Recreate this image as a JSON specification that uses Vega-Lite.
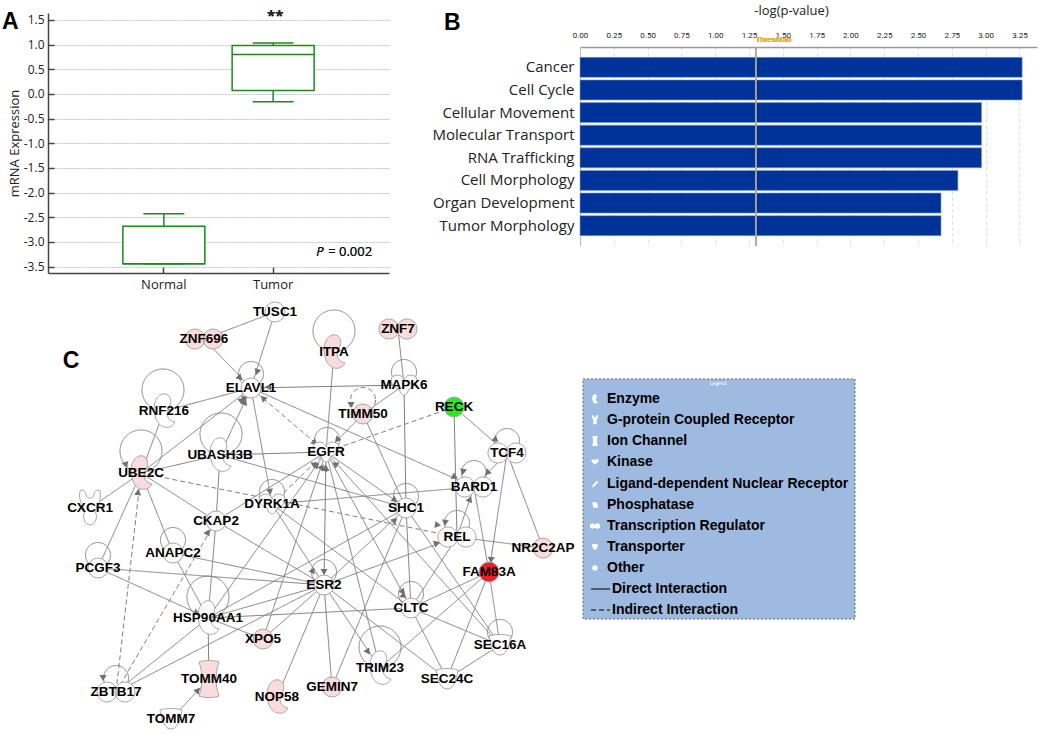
{
"$schema":"https://vega.github.io/schema/vega-lite/v6.json",
"background":"white","padding":{"left":2,"top":4,"right":0,"bottom":0},
"config":{"view":{"stroke":null}},
"datasets":{
"box":[{"group":"Normal","lower":-3.44,"q1":-3.44,"median":-3.44,"q3":-2.68,"upper":-2.43},{"group":"Tumor","lower":-0.16,"q1":0.07,"median":0.8,"q3":0.98,"upper":1.03}],
"path":[{"term":"Cancer","value":3.27},{"term":"Cell Cycle","value":3.27},{"term":"Cellular Movement","value":2.97},{"term":"Molecular Transport","value":2.97},{"term":"RNA Trafficking","value":2.97},{"term":"Cell Morphology","value":2.795},{"term":"Organ Development","value":2.67},{"term":"Tumor Morphology","value":2.67}],
"nodes":[
{"name":"TUSC1","x":275,"y":312,"kind":"other","level":"none"},
{"name":"ZNF696","x":204,"y":339,"kind":"tf","level":"up"},
{"name":"ELAVL1","x":251,"y":388,"kind":"other","level":"none"},
{"name":"RNF216","x":164,"y":411,"kind":"enzyme","level":"none"},
{"name":"UBE2C","x":141,"y":473,"kind":"enzyme","level":"up"},
{"name":"UBASH3B","x":220,"y":455,"kind":"enzyme","level":"none"},
{"name":"EGFR","x":326,"y":452,"kind":"kinase","level":"none"},
{"name":"DYRK1A","x":272,"y":504,"kind":"kinase","level":"none"},
{"name":"CXCR1","x":90,"y":508,"kind":"gpcr","level":"none"},
{"name":"CKAP2","x":216,"y":521,"kind":"other","level":"none"},
{"name":"ANAPC2","x":173,"y":553,"kind":"other","level":"none"},
{"name":"PCGF3","x":98,"y":568,"kind":"other","level":"none"},
{"name":"HSP90AA1","x":208,"y":618,"kind":"enzyme","level":"none"},
{"name":"ZBTB17","x":116,"y":692,"kind":"tf","level":"none"},
{"name":"TOMM40","x":209,"y":679,"kind":"ion","level":"up"},
{"name":"TOMM7","x":171,"y":719,"kind":"transporter","level":"none"},
{"name":"XPO5","x":263,"y":639,"kind":"other","level":"up"},
{"name":"NOP58","x":277,"y":697,"kind":"enzyme","level":"up"},
{"name":"GEMIN7","x":332,"y":687,"kind":"other","level":"up"},
{"name":"TRIM23","x":380,"y":668,"kind":"enzyme","level":"none"},
{"name":"SEC24C","x":447,"y":679,"kind":"transporter","level":"none"},
{"name":"SEC16A","x":500,"y":645,"kind":"transporter","level":"none"},
{"name":"CLTC","x":411,"y":608,"kind":"other","level":"none"},
{"name":"ESR2","x":324,"y":585,"kind":"other","level":"none"},
{"name":"FAM83A","x":489,"y":572,"kind":"other","level":"high"},
{"name":"REL","x":457,"y":537,"kind":"tf","level":"none"},
{"name":"NR2C2AP","x":543,"y":548,"kind":"other","level":"up"},
{"name":"SHC1","x":406,"y":508,"kind":"other","level":"none"},
{"name":"BARD1","x":474,"y":487,"kind":"tf","level":"none"},
{"name":"TCF4","x":507,"y":453,"kind":"tf","level":"none"},
{"name":"RECK","x":454,"y":407,"kind":"other","level":"down"},
{"name":"TIMM50","x":363,"y":414,"kind":"other","level":"up"},
{"name":"MAPK6","x":404,"y":385,"kind":"kinase","level":"none"},
{"name":"ZNF7","x":398,"y":329,"kind":"tf","level":"up"},
{"name":"ITPA","x":334,"y":352,"kind":"enzyme","level":"up"}],
"loops":[
{"x":251,"y":374,"loop":"small","line":"direct"},{"x":163,"y":390,"loop":"big","line":"direct"},{"x":141,"y":451,"loop":"big","line":"direct"},{"x":221,"y":434,"loop":"big","line":"direct"},{"x":327,"y":440,"loop":"small","line":"direct"},{"x":272,"y":492,"loop":"small","line":"direct"},{"x":173,"y":540,"loop":"small","line":"direct"},{"x":98,"y":555,"loop":"small","line":"direct"},{"x":208,"y":597,"loop":"big","line":"direct"},{"x":116,"y":678,"loop":"small","line":"direct"},{"x":380,"y":647,"loop":"big","line":"direct"},{"x":500,"y":632,"loop":"small","line":"direct"},{"x":411,"y":594,"loop":"small","line":"direct"},{"x":324,"y":572,"loop":"small","line":"direct"},{"x":457,"y":523,"loop":"small","line":"direct"},{"x":406,"y":496,"loop":"small","line":"direct"},{"x":474,"y":473,"loop":"small","line":"direct"},{"x":507,"y":441,"loop":"small","line":"direct"},{"x":363,"y":400,"loop":"small","line":"indirect"},{"x":404,"y":372,"loop":"small","line":"direct"},{"x":334,"y":331,"loop":"big","line":"direct"}],
"edges":[
{"from":"TUSC1","to":"ZNF696","line":"direct"},{"from":"TUSC1","to":"ELAVL1","line":"direct"},{"from":"ZNF696","to":"ELAVL1","line":"direct"},{"from":"RNF216","to":"ELAVL1","line":"direct"},{"from":"UBE2C","to":"ELAVL1","line":"direct"},{"from":"UBASH3B","to":"ELAVL1","line":"direct"},{"from":"MAPK6","to":"ELAVL1","line":"direct"},{"from":"ELAVL1","to":"BARD1","line":"direct"},{"from":"ELAVL1","to":"EGFR","line":"indirect"},{"from":"ELAVL1","to":"DYRK1A","line":"direct"},{"from":"RNF216","to":"UBE2C","line":"direct"},{"from":"UBE2C","to":"UBASH3B","line":"direct"},{"from":"UBE2C","to":"REL","line":"indirect"},{"from":"UBE2C","to":"CKAP2","line":"direct"},{"from":"UBE2C","to":"ANAPC2","line":"direct"},{"from":"UBE2C","to":"CXCR1","line":"direct"},{"from":"UBE2C","to":"PCGF3","line":"direct"},{"from":"ZBTB17","to":"UBE2C","line":"indirect"},{"from":"ZBTB17","to":"CKAP2","line":"indirect"},{"from":"ZBTB17","to":"HSP90AA1","line":"direct"},{"from":"ZBTB17","to":"ESR2","line":"direct"},{"from":"UBASH3B","to":"EGFR","line":"direct"},{"from":"UBASH3B","to":"CKAP2","line":"direct"},{"from":"UBASH3B","to":"SHC1","line":"direct"},{"from":"CKAP2","to":"EGFR","line":"direct"},{"from":"DYRK1A","to":"EGFR","line":"indirect"},{"from":"HSP90AA1","to":"EGFR","line":"direct"},{"from":"XPO5","to":"EGFR","line":"direct"},{"from":"ESR2","to":"EGFR","line":"direct"},{"from":"EGFR","to":"CLTC","line":"direct"},{"from":"EGFR","to":"TRIM23","line":"direct"},{"from":"EGFR","to":"SEC16A","line":"direct"},{"from":"EGFR","to":"SHC1","line":"direct"},{"from":"DYRK1A","to":"CLTC","line":"direct"},{"from":"DYRK1A","to":"ESR2","line":"direct"},{"from":"DYRK1A","to":"BARD1","line":"direct"},{"from":"ESR2","to":"SHC1","line":"direct"},{"from":"HSP90AA1","to":"SHC1","line":"direct"},{"from":"GEMIN7","to":"SHC1","line":"direct"},{"from":"SHC1","to":"CLTC","line":"direct"},{"from":"SHC1","to":"SEC16A","line":"direct"},{"from":"ESR2","to":"REL","line":"direct"},{"from":"HSP90AA1","to":"CLTC","line":"direct"},{"from":"ESR2","to":"TRIM23","line":"direct"},{"from":"ESR2","to":"SEC24C","line":"direct"},{"from":"ESR2","to":"GEMIN7","line":"direct"},{"from":"ESR2","to":"NOP58","line":"direct"},{"from":"ESR2","to":"XPO5","line":"direct"},{"from":"ESR2","to":"HSP90AA1","line":"direct"},{"from":"ESR2","to":"CKAP2","line":"direct"},{"from":"ESR2","to":"ANAPC2","line":"direct"},{"from":"ESR2","to":"PCGF3","line":"direct"},{"from":"PCGF3","to":"HSP90AA1","line":"direct"},{"from":"ANAPC2","to":"HSP90AA1","line":"direct"},{"from":"CKAP2","to":"HSP90AA1","line":"direct"},{"from":"HSP90AA1","to":"XPO5","line":"direct"},{"from":"HSP90AA1","to":"TOMM40","line":"direct"},{"from":"TOMM7","to":"TOMM40","line":"direct"},{"from":"TIMM50","to":"EGFR","line":"direct"},{"from":"MAPK6","to":"TIMM50","line":"direct"},{"from":"TIMM50","to":"SHC1","line":"direct"},{"from":"ITPA","to":"EGFR","line":"direct"},{"from":"ZNF7","to":"MAPK6","line":"direct"},{"from":"MAPK6","to":"SHC1","line":"direct"},{"from":"RECK","to":"EGFR","line":"indirect"},{"from":"RECK","to":"REL","line":"direct"},{"from":"RECK","to":"TCF4","line":"direct"},{"from":"TCF4","to":"BARD1","line":"direct"},{"from":"TCF4","to":"FAM83A","line":"direct"},{"from":"TCF4","to":"NR2C2AP","line":"direct"},{"from":"REL","to":"BARD1","line":"direct"},{"from":"BARD1","to":"FAM83A","line":"direct"},{"from":"REL","to":"NR2C2AP","line":"direct"},{"from":"REL","to":"CLTC","line":"direct"},{"from":"FAM83A","to":"CLTC","line":"direct"},{"from":"FAM83A","to":"TRIM23","line":"direct"},{"from":"FAM83A","to":"SEC24C","line":"direct"},{"from":"FAM83A","to":"SEC16A","line":"direct"},{"from":"CLTC","to":"SEC16A","line":"direct"},{"from":"CLTC","to":"SEC24C","line":"direct"},{"from":"SEC16A","to":"SEC24C","line":"direct"}],
"arrows":[
{"x":257,"y":372,"angle":198},{"x":240,"y":378,"angle":137},{"x":245,"y":398,"angle":75},{"x":242,"y":400,"angle":52},{"x":245,"y":402,"angle":24},{"x":268,"y":387,"angle":270},{"x":455,"y":477,"angle":114},{"x":263,"y":398,"angle":312},{"x":315,"y":443,"angle":132},{"x":270,"y":492,"angle":169},{"x":138,"y":492,"angle":6},{"x":208,"y":532,"angle":30},{"x":438,"y":525,"angle":100},{"x":126,"y":465,"angle":160},{"x":103,"y":678,"angle":180},{"x":351,"y":405,"angle":180},{"x":463,"y":472,"angle":190},{"x":445,"y":523,"angle":190},{"x":315,"y":464,"angle":60},{"x":317,"y":465,"angle":49},{"x":322,"y":467,"angle":38},{"x":325,"y":468,"angle":20},{"x":326,"y":468,"angle":0},{"x":335,"y":464,"angle":302},{"x":395,"y":500,"angle":121},{"x":337,"y":440,"angle":220},{"x":496,"y":440,"angle":130},{"x":487,"y":473,"angle":225},{"x":491,"y":560,"angle":185},{"x":470,"y":499,"angle":23},{"x":395,"y":520,"angle":47},{"x":437,"y":543,"angle":69},{"x":324,"y":572,"angle":180},{"x":313,"y":572,"angle":149},{"x":404,"y":596,"angle":125},{"x":403,"y":592,"angle":140},{"x":368,"y":652,"angle":147},{"x":197,"y":613,"angle":114},{"x":198,"y":690,"angle":42}],
"legendBox":[{"x":583,"x2":855,"y":379,"y2":619}],
"legendItems":[
{"label":"Enzyme","kind":"enzyme","x":595,"tx":607,"y":399},{"label":"G-protein Coupled Receptor","kind":"gpcr","x":595,"tx":607,"y":420},{"label":"Ion Channel","kind":"ion","x":595,"tx":607,"y":441},{"label":"Kinase","kind":"kinase","x":595,"tx":607,"y":462},{"label":"Ligand-dependent Nuclear Receptor","kind":"ligand","x":595,"tx":607,"y":484},{"label":"Phosphatase","kind":"phosphatase","x":595,"tx":607,"y":505},{"label":"Transcription Regulator","kind":"tf","x":595,"tx":607,"y":526},{"label":"Transporter","kind":"transporter","x":595,"tx":607,"y":547},{"label":"Other","kind":"other","x":595,"tx":607,"y":568}],
"legendLines":[{"label":"Direct Interaction","line":"direct","x":591,"x2":610,"y":589},{"label":"Indirect Interaction","line":"indirect","x":591,"x2":610,"y":610}]
},
"vconcat":[
{"hconcat":[
{"width":341,"height":260,
"title":{"text":"A","anchor":"start","frame":"group","font":"Liberation Sans","fontSize":23,"fontWeight":"bold","dx":-46,"dy":25,"offset":0,"color":"#000"},
"data":{"name":"box"},
"encoding":{"x":{"field":"group","type":"nominal","sort":["Normal","Tumor"],"scale":{"type":"band","paddingInner":0,"paddingOuter":0.56},
"axis":{"title":null,"labelAngle":0,"labelFont":"Open Sans","labelFontSize":13,"labelColor":"#222","tickSize":-6,"tickColor":"#444","tickWidth":1.5,"domainColor":"#444","domainWidth":1.5,"labelPadding":11}}},
"layer":[
{"mark":{"type":"rule","color":"#1a8a1a","strokeWidth":1.5},"encoding":{"y":{"field":"lower","type":"quantitative","scale":{"domain":[-3.63,1.64],"nice":false,"zero":false},
"axis":{"title":"mRNA Expression","titleFont":"Open Sans","titleFontSize":13,"titleFontWeight":"normal","titleColor":"#222","titlePadding":2,"tickCount":30,"values":[-3.5,-3,-2.5,-2,-1.5,-1,-0.5,0,0.5,1,1.5],"labelExpr":"replace(format(datum.value,'.1f'),'\u2212','-')","labelOverlap":false,"labelFlush":false,"labelFont":"Open Sans","labelFontSize":12,"labelColor":"#222","labelPadding":10,"tickSize":-6,"tickColor":"#444","tickWidth":1.5,"domainColor":"#444","domainWidth":1.5,"grid":true,"gridColor":"#c4c4c4","gridDash":[2,1],"gridWidth":1.2}},"y2":{"field":"q1"}}},
{"mark":{"type":"rule","color":"#1a8a1a","strokeWidth":1.5},"encoding":{"y":{"field":"q3","type":"quantitative"},"y2":{"field":"upper"}}},
{"mark":{"type":"bar","size":82,"fill":"white","stroke":"#1a8a1a","strokeWidth":1.5},"encoding":{"y":{"field":"q1","type":"quantitative"},"y2":{"field":"q3"}}},
{"mark":{"type":"tick","size":41,"thickness":1.5,"color":"#1a8a1a","opacity":1},"encoding":{"y":{"field":"upper","type":"quantitative"}}},
{"mark":{"type":"tick","size":41,"thickness":1.5,"color":"#1a8a1a","opacity":1},"encoding":{"y":{"field":"lower","type":"quantitative"}}},
{"mark":{"type":"tick","size":82,"thickness":1.5,"color":"#1a8a1a","opacity":1},"encoding":{"y":{"field":"median","type":"quantitative"}}},
{"mark":{"type":"text","text":"**","font":"Open Sans","fontSize":15,"fontWeight":"bold","color":"#222","dy":-1,"dx":2},"encoding":{"x":{"datum":"Tumor"},"y":{"datum":1.55}}},
{"mark":{"type":"text","text":"P","font":"Open Sans","fontSize":13,"fontStyle":"italic","color":"#111","align":"left","dx":43},"encoding":{"x":{"datum":"Tumor"},"y":{"datum":-3.2}}},
{"mark":{"type":"text","text":"= 0.002","font":"Open Sans","fontSize":13,"color":"#111","align":"left","dx":55},"encoding":{"x":{"datum":"Tumor"},"y":{"datum":-3.2}}}
]},
{"vconcat":[
{"width":457,"height":1,"data":{"values":[{"a":0}]},"mark":{"type":"rule","opacity":0},"encoding":{}},
{"width":457,"height":199,
"title":{"text":"B","anchor":"start","frame":"group","font":"Liberation Sans","fontSize":23,"fontWeight":"bold","dx":-136,"dy":31,"offset":0,"color":"#000"},
"data":{"name":"path"},
"layer":[
{"mark":{"type":"bar","size":20,"color":"#003399","stroke":"#7f9fd0","strokeWidth":0.6},"encoding":{"y":{"field":"term","type":"nominal","sort":null,"scale":{"type":"band","paddingInner":0,"paddingOuter":0.4},
"axis":{"title":null,"labelFont":"Open Sans","labelFontSize":15,"labelColor":"#222","ticks":false,"labelPadding":6,"domainColor":"#bbb","domainWidth":1}},"x":{"field":"value","type":"quantitative","scale":{"domain":[0,3.38],"nice":false},
"axis":{"orient":"top","title":"-log(p-value)","titleFont":"Open Sans","titleFontSize":13,"titleFontWeight":"normal","titleColor":"#222","titlePadding":14,"titleX":211,"tickCount":30,"values":[0,0.25,0.5,0.75,1,1.25,1.5,1.75,2,2.25,2.5,2.75,3,3.25],"format":".2f","labelOverlap":false,"labelFlush":false,"labelFont":"Roboto","labelFontSize":8,"labelColor":"#222","ticks":false,"labelPadding":8,"domainColor":"#999","domainWidth":1.5,"grid":true,"gridColor":"#ddd","gridDash":[3,3],"gridWidth":1}}}},
{"mark":{"type":"rule","color":"#a8a898","strokeWidth":0.8},"encoding":{"x":{"datum":1.3}}},
{"mark":{"type":"text","text":"Threshold","font":"Roboto","fontSize":8,"color":"#e8b040","align":"left","dx":0,"dy":-27},"encoding":{"x":{"datum":1.3},"y":{"datum":"Cancer"}}}
]}
],"spacing":-10,"align":"none"}
],"spacing":42,"align":"none"},
{"width":1003,"height":442,
"encoding":{},
"layer":[
{"data":{"name":"edges"},
"transform":[{"lookup":"from","from":{"data":{"name":"nodes"},"key":"name","fields":["x","y"]},"as":["sx","sy"]},{"lookup":"to","from":{"data":{"name":"nodes"},"key":"name","fields":["x","y"]},"as":["tx","ty"]}],
"mark":{"type":"rule","color":"#808080","strokeWidth":1},
"encoding":{"x":{"field":"sx","type":"quantitative","scale":{"domain":[48,1051],"nice":false,"zero":false},"axis":null},"y":{"field":"sy","type":"quantitative","scale":{"domain":[733,291],"nice":false,"zero":false},"axis":null},"x2":{"field":"tx"},"y2":{"field":"ty"},
"strokeDash":{"field":"line","type":"nominal","scale":{"domain":["direct","indirect"],"range":[[1,0],[5,3]]},"legend":null}}},
{"data":{"name":"loops"},"mark":{"type":"point","shape":"circle","filled":false,"color":"#808080","strokeWidth":1,"opacity":1},
"encoding":{"x":{"field":"x","type":"quantitative"},"y":{"field":"y","type":"quantitative"},
"size":{"field":"loop","type":"nominal","scale":{"domain":["small","big"],"range":[625,1764]},"legend":null},
"strokeDash":{"field":"line","type":"nominal","legend":null}}},
{"data":{"name":"arrows"},"mark":{"type":"point","shape":"triangle-up","filled":true,"color":"#707070","size":50,"opacity":1},
"encoding":{"x":{"field":"x","type":"quantitative"},"y":{"field":"y","type":"quantitative"},"angle":{"field":"angle","type":"quantitative","scale":{"domain":[0,360],"range":[0,360]}}}},
{"data":{"name":"nodes"},"mark":{"type":"point","filled":true,"size":400,"stroke":"#a8a8a8","strokeWidth":1,"opacity":1},
"encoding":{"x":{"field":"x","type":"quantitative"},"y":{"field":"y","type":"quantitative"},
"shape":{"field":"kind","type":"nominal","scale":{"domain":["other","tf","enzyme","kinase","gpcr","ion","transporter","ligand","phosphatase"],"range":["circle","M-1.9,0 A1,1 0 1 1 0.1,0 A1,1 0 1 1 -1.9,0 Z M-0.1,0 A1,1 0 1 1 1.9,0 A1,1 0 1 1 -0.1,0 Z","M-0.2,-1.7 C0.6,-1.9 0.9,-0.9 0.5,-0.4 C0.1,0.1 0.3,1 1.1,1.1 C0.7,1.9 -0.4,1.8 -0.8,0.8 C-1.2,-0.2 -1,-1.4 -0.2,-1.7 Z","M-1.2,-0.8 C-0.6,-1.2 -0.1,-0.9 0,-0.5 C0.1,-0.9 0.6,-1.2 1.2,-0.8 C1.5,-0.2 1,0.3 0.5,0.4 C0.3,0.9 0.2,1 0,1 C-0.2,1 -0.3,0.9 -0.5,0.4 C-1,0.3 -1.5,-0.2 -1.2,-0.8 Z","M-1,-1.7 C-0.7,-1.9 -0.4,-1.7 -0.4,-1.3 C-0.4,-0.9 0.4,-0.9 0.4,-1.3 C0.4,-1.7 0.7,-1.9 1,-1.7 C1.2,-0.8 0.7,-0.2 0.5,0.3 C0.9,1.1 0.4,1.7 0,1.7 C-0.4,1.7 -0.9,1.1 -0.5,0.3 C-0.7,-0.2 -1.2,-0.8 -1,-1.7 Z","M-1,-1.7 C-0.5,-1.9 0.5,-1.9 1,-1.7 C0.6,-0.6 0.6,0.6 1,1.7 C0.5,1.9 -0.5,1.9 -1,1.7 C-0.6,0.6 -0.6,-0.6 -1,-1.7 Z","M-1.1,-0.9 C-0.5,-1.1 0.5,-1.1 1.1,-0.9 C0.9,0.3 0.6,1 0,1 C-0.6,1 -0.9,0.3 -1.1,-0.9 Z","M-1.2,1 L0.6,-1.2 L1.2,-0.6 L-0.6,1.2 Z","M-1,-1 L0.4,-1 L1,-0.2 L1,1 L-0.6,1 Z"]},"legend":null},
"fill":{"field":"level","type":"nominal","scale":{"domain":["none","up","high","down"],"range":["#ffffff","#fbdcdc","#e8202a","#22ee22"]},"legend":null}}},
{"data":{"name":"nodes"},"mark":{"type":"text","font":"Liberation Sans","fontSize":13.5,"fontWeight":"bold","color":"#000"},
"encoding":{"x":{"field":"x","type":"quantitative"},"y":{"field":"y","type":"quantitative"},"text":{"field":"name"}}},
{"data":{"values":[{"label":"C","x":71,"y":361}]},"mark":{"type":"text","font":"Liberation Sans","fontSize":23,"fontWeight":"bold","color":"#000"},
"encoding":{"x":{"field":"x","type":"quantitative"},"y":{"field":"y","type":"quantitative"},"text":{"field":"label"}}},
{"data":{"name":"legendBox"},"mark":{"type":"rect","fill":"#9fbae0","stroke":"#666","strokeWidth":1,"strokeDash":[2,2]},
"encoding":{"x":{"field":"x","type":"quantitative"},"x2":{"field":"x2"},"y":{"field":"y","type":"quantitative"},"y2":{"field":"y2"}}},
{"data":{"values":[{"label":"Legend","x":718,"y":383}]},"mark":{"type":"text","font":"Liberation Sans","fontSize":5,"color":"#ffffff"},
"encoding":{"x":{"field":"x","type":"quantitative"},"y":{"field":"y","type":"quantitative"},"text":{"field":"label"}}},
{"data":{"name":"legendItems"},"mark":{"type":"point","filled":true,"size":30,"color":"#ffffff","opacity":1},
"encoding":{"x":{"field":"x","type":"quantitative"},"y":{"field":"y","type":"quantitative"},"shape":{"field":"kind","type":"nominal","legend":null}}},
{"data":{"name":"legendItems"},"mark":{"type":"text","font":"Liberation Sans","fontSize":14,"fontWeight":"bold","color":"#000","align":"left"},
"encoding":{"x":{"field":"tx","type":"quantitative"},"y":{"field":"y","type":"quantitative"},"text":{"field":"label"}}},
{"data":{"name":"legendLines"},"mark":{"type":"rule","color":"#000","strokeWidth":1},
"encoding":{"x":{"field":"x","type":"quantitative"},"x2":{"field":"x2"},"y":{"field":"y","type":"quantitative"},"strokeDash":{"field":"line","type":"nominal","legend":null}}},
{"data":{"name":"legendLines"},"mark":{"type":"text","font":"Liberation Sans","fontSize":14,"fontWeight":"bold","color":"#000","align":"left","dx":2},
"encoding":{"x":{"field":"x2","type":"quantitative"},"y":{"field":"y","type":"quantitative"},"text":{"field":"label"}}}
]}
],"spacing":0,"align":"none"}
